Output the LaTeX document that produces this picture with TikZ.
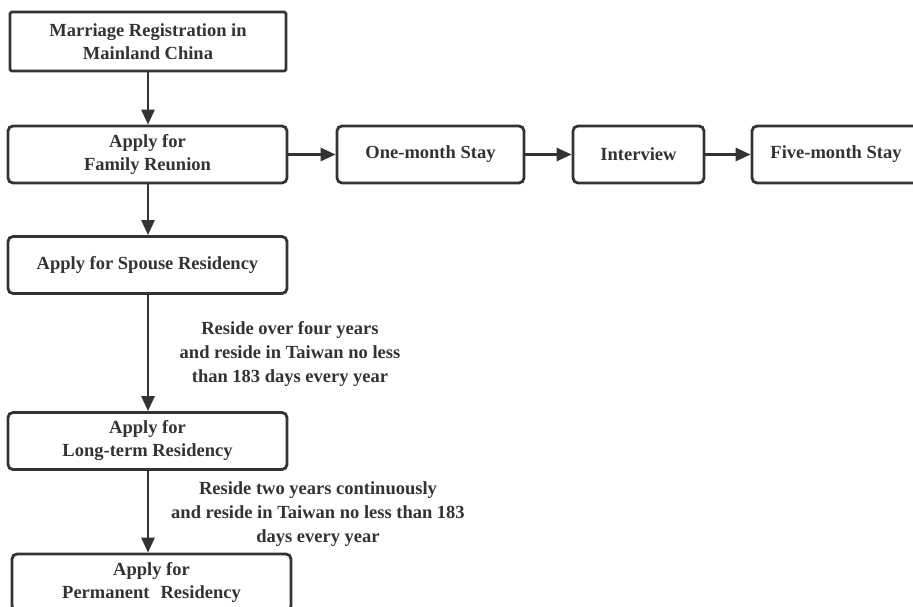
\documentclass[tikz,border=0pt]{standalone}
\usepackage{fontspec}
\setmainfont{Liberation Serif}[BoldFont={Liberation Serif Bold}]
\newfontfamily\lsbold{Liberation Serif Bold}
\usetikzlibrary{arrows.meta}
\definecolor{ink}{HTML}{333333}
\begin{document}
\begin{tikzpicture}[x=1pt,y=-1pt,
  box/.style={draw=ink, line width=2.8pt, rounded corners=5pt, align=center,
    font=\fontsize{18.5}{23}\lsbold, text=ink, inner sep=0pt,
    minimum height=57pt},
  arr/.style={draw=ink, line width=2.8pt, -{Triangle[length=15pt,width=13pt]}},
  lbl/.style={align=center, font=\fontsize{18.5}{24}\lsbold, text=ink, inner sep=0pt}]
\useasboundingbox (0,0) rectangle (913,607);
\clip (0,0) rectangle (913,607);
\node[box, rounded corners=1.5pt, minimum width=276pt, minimum height=59pt] (m1) at (148,41.5) {Marriage Registration in\\Mainland China};
\node[box, minimum width=279pt] (fr) at (147.5,154.5) {Apply for\\Family Reunion};
\node[box, minimum width=187pt] (one) at (430.5,154.5) {One-month Stay};
\node[box, minimum width=131pt] (int) at (638.5,154.5) {Interview};
\node[box, minimum width=168pt] (five) at (836,154.5) {Five-month Stay};
\node[box, minimum width=279pt] (sp) at (147.5,265) {Apply for Spouse Residency};
\node[box, minimum width=279pt] (lt) at (147.5,441) {Apply for\\Long-term Residency};
\node[box, minimum width=279pt] (pr) at (151.5,582.5) {Apply for\\Permanent\hspace{0.6em}Residency};
\node[lbl] (l1) at (290,354) {Reside over four years\\and reside in Taiwan no less\\than 183 days every year};
\node[lbl] (l2) at (318,514) {Reside two years continuously\\and reside in Taiwan no less than 183\\days every year};
\draw[arr] (m1.south -| 148,0) -- (fr.north -| 148,0);
\draw[arr] (fr) -- (one);
\draw[arr] (one) -- (int);
\draw[arr] (int) -- (five);
\draw[arr] (fr.south -| 148,0) -- (sp.north -| 148,0);
\draw[arr] (sp.south -| 148,0) -- (lt.north -| 148,0);
\draw[arr] (lt.south -| 148,0) -- (pr.north -| 148,0);
\end{tikzpicture}
\end{document}
